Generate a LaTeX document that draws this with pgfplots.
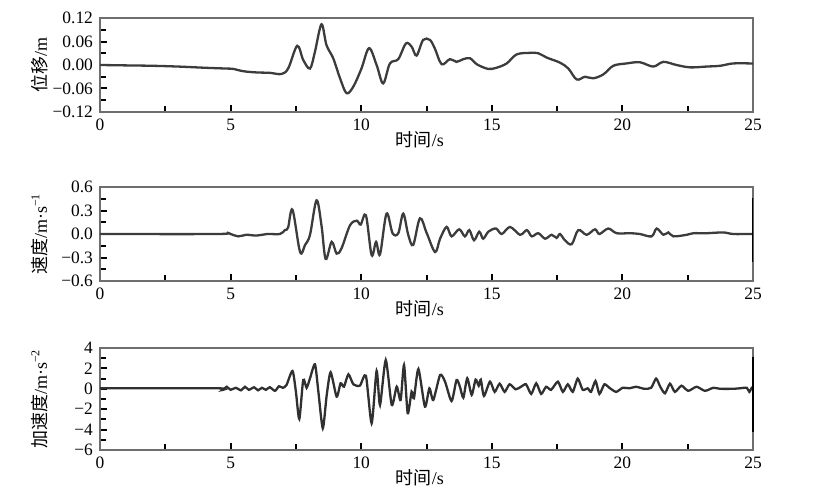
\documentclass[border=0pt]{standalone}
\usepackage{pgfplots}
\pgfplotsset{compat=1.18}
\usepackage{fontspec}
\setmainfont{Liberation Serif}
\newfontfamily\cjk{Noto Sans CJK SC}
\definecolor{curve}{HTML}{3C3C3C}
\definecolor{frame}{HTML}{6E6E6E}
\pgfplotsset{
  panel/.style={
    scale only axis, width=326.5pt, xmin=0, xmax=25,
    xtick={0,5,10,15,20,25}, xticklabels={0,5,10,15,20,25},
    minor xtick={2.5,7.5,12.5,17.5,22.5},
    xtick pos=bottom, ytick pos=left, tick align=inside,
    axis line style={frame, line width=0.8pt},
    every tick/.style={black, line width=1pt},
    major tick length=3.4pt, minor tick length=2.8pt,
    tick label style={font=\fontsize{8.7}{10}\selectfont},
    label style={font=\fontsize{9}{11}\selectfont},
    xlabel={{\cjk 时间}/s},
    xlabel style={at={(axis description cs:0.49,0)}, anchor=north, yshift=-6pt},
    ylabel style={at={(axis description cs:-0.092,0.5)}, anchor=center},
    anchor=north west,
    /pgf/number format/assume math mode=true,
  },
  wave/.style={curve, line width=1.15pt, smooth, tension=0.55, no markers},
}
\begin{document}
\begin{tikzpicture}
\path[use as bounding box] (0pt,0pt) rectangle (415.5pt,-243.5pt);
% ---------------- displacement ----------------
\begin{axis}[panel, at={(50pt,-9pt)}, height=47pt,
  ymin=-0.12, ymax=0.12,
  ytick={-0.12,-0.06,0,0.06,0.12},
  minor ytick={-0.09,-0.03,0.03,0.09},
  yticklabels={−0.12,−0.06,0.00,0.06,0.12},
  ylabel={{\cjk 位移}/m}]
\addplot[wave] coordinates {
(0,0) (1,-0.001) (2,-0.002) (3,-0.004) (4,-0.007) (4.8,-0.009) (5.1,-0.010) (5.5,-0.016) (6,-0.019) (6.5,-0.020) (6.95,-0.023) (7.21,-0.008) (7.55,0.049) (7.78,0.013) (8.04,-0.009) (8.23,0.034) (8.48,0.104) (8.67,0.051) (8.93,0.017) (9.19,-0.034) (9.44,-0.072) (9.70,-0.055) (10.01,-0.009) (10.30,0.043) (10.59,0.0) (10.84,-0.047) (11.10,0.004) (11.42,0.015) (11.71,0.055) (11.93,0.047) (12.12,0.024) (12.37,0.064) (12.63,0.064) (12.82,0.042) (13.08,0.002) (13.40,0.015) (13.65,0.008) (13.91,0.015) (14.17,0.017) (14.42,0.002) (14.86,-0.010) (15.18,-0.007) (15.57,0.004) (15.95,0.027) (16.46,0.031) (16.78,0.030) (17.10,0.019) (17.61,0.006) (17.93,-0.009) (18.25,-0.037) (18.57,-0.030) (18.88,-0.034) (19.27,-0.024) (19.65,-0.002) (20.16,0.004) (20.67,0.007) (21.18,-0.004) (21.57,0.008) (22.07,0.0) (22.59,-0.006) (23.22,-0.004) (23.74,-0.002) (24.24,0.004) (24.89,0.004) (25,0.003)
};
\end{axis}
% ---------------- velocity ----------------
\begin{axis}[panel, at={(50pt,-93.5pt)}, height=47pt,
  ymin=-0.6, ymax=0.6,
  ytick={-0.6,-0.3,0,0.3,0.6},
  minor ytick={-0.45,-0.15,0.15,0.45},
  yticklabels={−0.6,−0.3,0.0,0.3,0.6},
  ylabel={{\cjk 速度}/m·s\textsuperscript{−1}}]
\addplot[wave] coordinates {
(0,0) (4.5,0) (4.85,0.02) (5.0,0.0) (5.3,-0.03) (5.6,-0.01) (6.0,-0.02) (6.4,0.0) (6.89,0) (7.08,0.05) (7.2,0.08) (7.37,0.31) (7.66,-0.23) (7.85,-0.14) (8.04,-0.01) (8.29,0.43) (8.48,0.11) (8.64,-0.32) (8.87,-0.10) (9.06,-0.25) (9.25,-0.18) (9.57,0.11) (9.83,0.17) (9.98,0.12) (10.18,0.24) (10.40,-0.27) (10.57,-0.10) (10.72,-0.26) (10.97,0.26) (11.20,0.01) (11.42,0.01) (11.61,0.26) (11.80,-0.01) (11.99,-0.14) (12.25,0.20) (12.51,0.01) (12.83,-0.23) (13.02,-0.06) (13.27,0.09) (13.46,-0.03) (13.75,0.06) (13.97,-0.03) (14.14,0.05) (14.32,-0.08) (14.52,0.03) (14.67,-0.06) (14.87,0.03) (15.16,0.07) (15.38,0) (15.70,0.09) (16.08,-0.01) (16.34,0.05) (16.53,-0.03) (16.78,0.01) (17.04,-0.06) (17.29,-0.01) (17.48,-0.05) (17.61,0) (17.80,-0.08) (18.06,-0.13) (18.31,0.05) (18.63,-0.01) (18.95,0.06) (19.12,0) (19.46,0.07) (19.78,0.01) (20.29,0.01) (20.67,0) (21.12,-0.03) (21.31,0.07) (21.57,-0.01) (21.76,0.02) (21.95,-0.03) (22.46,-0.01) (22.71,0.01) (23.22,0.01) (23.86,0.02) (24.24,0) (24.89,0) (25,0)
};
\addplot[black, line width=1.4pt, no markers, clip=false] coordinates {(25,0.456) (25,-0.354)};
\end{axis}
% ---------------- acceleration ----------------
\begin{axis}[panel, at={(50pt,-174pt)}, height=51pt,
  ymin=-6, ymax=4,
  ytick={-6,-4,-2,0,2,4},
  minor ytick={-5,-3,-1,1,3},
  yticklabels={−6,−4,−2,0,2,4},
  ylabel={{\cjk 加速度}/m·s\textsuperscript{−2}}, clip mode=individual]
\addplot[curve!80!black, line width=1.15pt, smooth, tension=0.4, no markers] coordinates {
(0,0.05) (4.5,0.05) (4.7,-0.1) (4.85,0.2) (5.0,-0.1) (5.2,0.1) (5.4,-0.15) (5.55,0.2) (5.7,-0.1) (5.9,0.15) (6.05,-0.15) (6.2,0.1) (6.35,-0.1) (6.5,0.15) (6.7,-0.2) (6.85,0.25) (7.0,0.1) (7.14,0.37) (7.37,1.75) (7.50,-0.28) (7.63,-2.96) (7.78,0.86) (7.91,0.1) (8.04,1.03) (8.23,2.40) (8.36,-0.28) (8.53,-3.87) (8.68,-0.61) (8.83,1.62) (9.06,-0.77) (9.21,0.54) (9.34,0.21) (9.51,1.42) (9.70,0.44) (9.95,0.31) (10.18,1.28) (10.40,-3.38) (10.59,1.75) (10.72,-1.59) (10.94,2.82) (11.17,-1.59) (11.36,0.21) (11.51,-1.1) (11.64,2.33) (11.78,-2.40) (11.93,-0.28) (12.02,-0.93) (12.19,1.94) (12.44,-1.75) (12.61,0.05) (12.76,-1.1) (13.02,1.35) (13.21,0.7) (13.46,-1.2) (13.65,0.86) (13.78,0.2) (13.91,-0.87) (14.06,1.03) (14.23,-0.6) (14.38,0.9) (14.50,0.3) (14.58,0.9) (14.70,-0.7) (14.93,0.7) (15.11,-0.3) (15.30,0.5) (15.49,-0.3) (15.68,0.44) (15.91,-0.05) (16.12,0.2) (16.31,0.44) (16.51,-0.5) (16.70,0.54) (16.89,-0.5) (17.08,0.2) (17.27,-0.1) (17.53,0.7) (17.72,-0.3) (17.91,0.44) (18.10,-0.3) (18.29,1.0) (18.48,-0.1) (18.67,0.05) (18.80,-0.3) (18.97,0.76) (19.12,-0.5) (19.31,0.44) (19.50,0.1) (19.76,-0.3) (20.01,0.1) (20.27,0.05) (20.52,0.2) (20.84,0) (21.10,0.1) (21.29,1.0) (21.45,0.2) (21.63,-0.44) (21.82,0.5) (22.01,-0.3) (22.26,0.3) (22.52,-0.2) (22.84,0.2) (23.16,-0.2) (23.48,0.1) (23.74,0) (24.24,0) (24.5,0.05) (24.76,0.1) (24.86,-0.3) (24.95,0.1) (25,0.05)
};
\addplot[black, line width=1.4pt, no markers, clip=false] coordinates {(25,3.15) (25,-4.2)};
\end{axis}
\end{tikzpicture}
\end{document}
